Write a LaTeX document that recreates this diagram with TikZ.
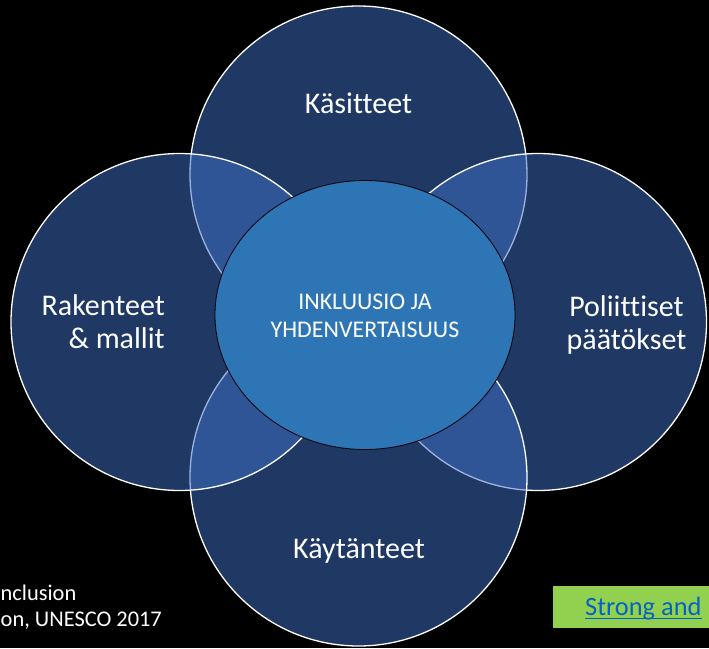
\documentclass[tikz,border=0pt]{standalone}
\usepackage{fontspec}
\setmainfont{Carlito}[Ligatures=NoCommon]
\usepackage{xcolor}
\usepackage{tikz}
\usetikzlibrary{calc}
\definecolor{bg}{HTML}{000000}
\definecolor{navy}{HTML}{203864}
\definecolor{lens}{HTML}{2F5597}
\definecolor{core}{HTML}{2E75B6}
\definecolor{seamc}{HTML}{9DB3DF}
\definecolor{linkbg}{HTML}{92D050}
\definecolor{linktxt}{HTML}{0563C1}
\tikzset{
  ring/.style={draw=white, line width=1.3pt},
  seam/.style={draw=seamc, line width=1.3pt},
  hub/.style={fill=core, draw=black, line width=0.8pt},
  lab/.style={text=white, font=\fontsize{30}{33}\selectfont, inner sep=0pt},
  labc/.style={text=white, font=\fontsize{23.9}{28}\selectfont, inner sep=0pt, align=center},
  note/.style={text=white, font=\fontsize{22.4}{26.5}\selectfont, inner sep=0pt, anchor=base west},
  linkt/.style={text=linktxt, font=\fontsize{26.4}{30}\selectfont, inner sep=0pt, anchor=base west},
}
\def\rr{168.5pt}

\begin{document}
\begin{tikzpicture}[x=1pt,y=-1pt]
  \fill[bg] (0,0) rectangle (709,648);
  \useasboundingbox (0,0) rectangle (709,648);

  \coordinate (ctop) at (358.5,174.5);
  \coordinate (cright) at (538,322);
  \coordinate (cbot) at (358.5,477.5);
  \coordinate (cleft) at (179.5,322);

  % top ring
  \fill[navy] (ctop) circle[radius=\rr];
  \draw[ring] (ctop) circle[radius=\rr];

  % right ring, over the top one
  \fill[navy] (cright) circle[radius=\rr];
  \begin{scope}
    \clip (cright) circle[radius=\rr];
    \fill[lens] (ctop) circle[radius=\rr];
    \draw[seam] (ctop) circle[radius=\rr];
  \end{scope}
  \draw[ring] (cright) circle[radius=\rr];

  % bottom ring, over the right one
  \fill[navy] (cbot) circle[radius=\rr];
  \begin{scope}
    \clip (cbot) circle[radius=\rr];
    \fill[lens] (cright) circle[radius=\rr];
    \draw[seam] (cright) circle[radius=\rr];
  \end{scope}
  \draw[ring] (cbot) circle[radius=\rr];

  % left ring, over top and bottom
  \fill[navy] (cleft) circle[radius=\rr];
  \begin{scope}
    \clip (cleft) circle[radius=\rr];
    \fill[lens] (ctop) circle[radius=\rr];
    \fill[lens] (cbot) circle[radius=\rr];
    \draw[seam] (ctop) circle[radius=\rr];
    \draw[seam] (cbot) circle[radius=\rr];
  \end{scope}
  \draw[ring] (cleft) circle[radius=\rr];

  % centre
  \draw[hub] (365,315) ellipse[x radius=150pt, y radius=134.5pt];
  \node[labc] (hubtext) at (365,316) {INKLUUSIO JA\\YHDENVERTAISUUS};

  \node[lab, anchor=base] (kasitteet) at (358.5,113.6) {Käsitteet};
  \node[lab, anchor=base] (kaytanteet) at (359,558) {Käytänteet};
  \node[lab, align=right, anchor=east] (rakenteet) at (165,321.5) {Rakenteet\\\& mallit};
  \node[lab, align=center] (poliittiset) at (626.5,325) {Poliittiset\\päätökset};

  % source text, cut at the left edge
  \node[note] (src1) at (0.5,600) {nclusion};
  \node[note] (src2) at (0.5,626.7) {on, UNESCO 2017};

  % link box
  \fill[linkbg] (553,586) rectangle (709,628);
  \node[linkt] (link) at (585,615) {Strong and};
  \draw[linktxt, line width=1.2pt] ($(link.base west)+(0,3.7)$) -- ($(link.base east)+(0,3.7)$);
\end{tikzpicture}
\end{document}
